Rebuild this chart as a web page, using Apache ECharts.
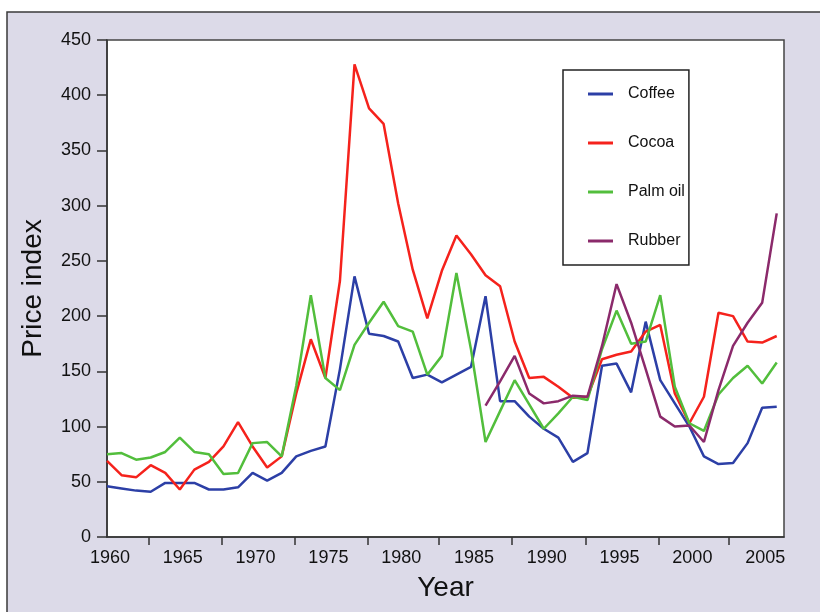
<!DOCTYPE html>
<html>
<head>
<meta charset="utf-8">
<script src="https://cdn.jsdelivr.net/npm/echarts@6/dist/echarts.min.js"></script>
<style>
  html, body { margin: 0; padding: 0; background: #fff; }
  #chart { width: 820px; height: 612px; }
</style>
</head>
<body>
<div id="chart"></div>
<script>
const years = [];
for (let y = 1960; y <= 2006; y++) years.push(y);

const coffee = [46, 44, 42, 41, 49, 49, 49, 43, 43, 45, 58, 51, 58, 73, 78, 82, 152, 236, 184, 182,
  177, 144, 147, 140, 147, 154, 218, 123, 123, 109, 98, 90, 68, 76, 155, 157, 131, 195, 142, 121,
  100, 73, 66, 67, 85, 117, 118];
const cocoa = [69, 56, 54, 65, 58, 43, 61, 68, 82, 104, 82, 63, 73, 130, 179, 144, 232, 428, 388, 374,
  302, 242, 198, 241, 273, 256, 237, 227, 177, 144, 145, 136, 126, 127, 161, 165, 168, 186, 192, 130,
  103, 127, 203, 200, 177, 176, 182];
const palmOil = [75, 76, 70, 72, 77, 90, 77, 75, 57, 58, 85, 86, 73, 137, 219, 144, 133, 174, 194, 213,
  191, 186, 147, 164, 239, 170, 86, 114, 142, 120, 98, 112, 127, 124, 170, 205, 175, 177, 219, 136,
  103, 96, 129, 144, 155, 139, 158];
const rubber = [null, null, null, null, null, null, null, null, null, null, null, null, null, null,
  null, null, null, null, null, null, null, null, null, null, null, null, 119, 141, 164, 130, 121,
  123, 128, 127, 173, 229, 194, 152, 109, 100, 101, 86, 133, 173, 194, 212, 293];

const labelYears = [1960, 1965, 1970, 1975, 1980, 1985, 1990, 1995, 2000, 2005];
const tickYears = [1962.9, 1967.9, 1972.9, 1977.9, 1982.8, 1987.8, 1992.9, 1997.9, 2002.7];

const names = ['Coffee', 'Cocoa', 'Palm oil', 'Rubber'];
const colors = ['#2c3fa6', '#f5221c', '#52be3c', '#8b2a6b'];

const font = "'Liberation Sans', Arial, sans-serif";

function pairs(values) {
  return years.map((y, i) => [y, values[i]]);
}

const chart = echarts.init(document.getElementById('chart'), null, { renderer: 'canvas' });

const series = [coffee, cocoa, palmOil, rubber].map((vals, i) => ({
  name: names[i],
  type: 'line',
  data: pairs(vals),
  symbol: 'none',
  connectNulls: false,
  lineStyle: { color: colors[i], width: 2.5 },
  itemStyle: { color: colors[i] },
}));

chart.setOption({
  animation: false,
  textStyle: { fontFamily: font },
  graphic: [{
    type: 'rect',
    z: -10,
    shape: { x: 7, y: 12, width: 830, height: 620 },
    style: { fill: '#dcdae8', stroke: '#3a3a3a', lineWidth: 1.5 },
  }],
  grid: {
    left: 107, top: 40, right: 36, bottom: 75,
    show: true,
    backgroundColor: '#fff',
    borderColor: '#444',
    borderWidth: 1.5,
  },
  legend: {
    orient: 'vertical',
    left: 563,
    top: 70,
    data: names,
    icon: 'rect',
    itemWidth: 25,
    itemHeight: 3,
    itemGap: 31,
    padding: [15, 4, 15, 25],
    backgroundColor: '#fff',
    borderColor: '#222',
    borderWidth: 1.5,
    textStyle: { fontSize: 16, lineHeight: 18, color: '#111', fontFamily: font, padding: [0, 0, 0, 10] },
  },
  xAxis: {
    type: 'value',
    min: 1960,
    max: 2006.5,
    name: 'Year',
    nameLocation: 'middle',
    nameGap: 37,
    nameTextStyle: { fontSize: 28, color: '#111', fontFamily: font },
    splitLine: { show: false },
    axisLine: { show: true, lineStyle: { color: '#333', width: 1.5 } },
    axisTick: { show: true, length: 8, customValues: tickYears, lineStyle: { color: '#333', width: 1.5 } },
    axisLabel: {
      customValues: labelYears,
      fontSize: 18,
      color: '#111',
      margin: 12,
      padding: [0, 0, 0, 6],
      formatter: v => String(v),
    },
  },
  yAxis: {
    type: 'value',
    min: 0,
    max: 450,
    interval: 50,
    name: 'Price index',
    nameLocation: 'middle',
    nameGap: 60,
    nameTextStyle: { fontSize: 28, color: '#111', fontFamily: font },
    splitLine: { show: false },
    axisLine: { show: true, lineStyle: { color: '#333', width: 1.5 } },
    axisTick: { show: true, length: 10, lineStyle: { color: '#333', width: 1.5 } },
    axisLabel: { fontSize: 18, color: '#111', margin: 16 },
  },
  series,
});
</script>
</body>
</html>
